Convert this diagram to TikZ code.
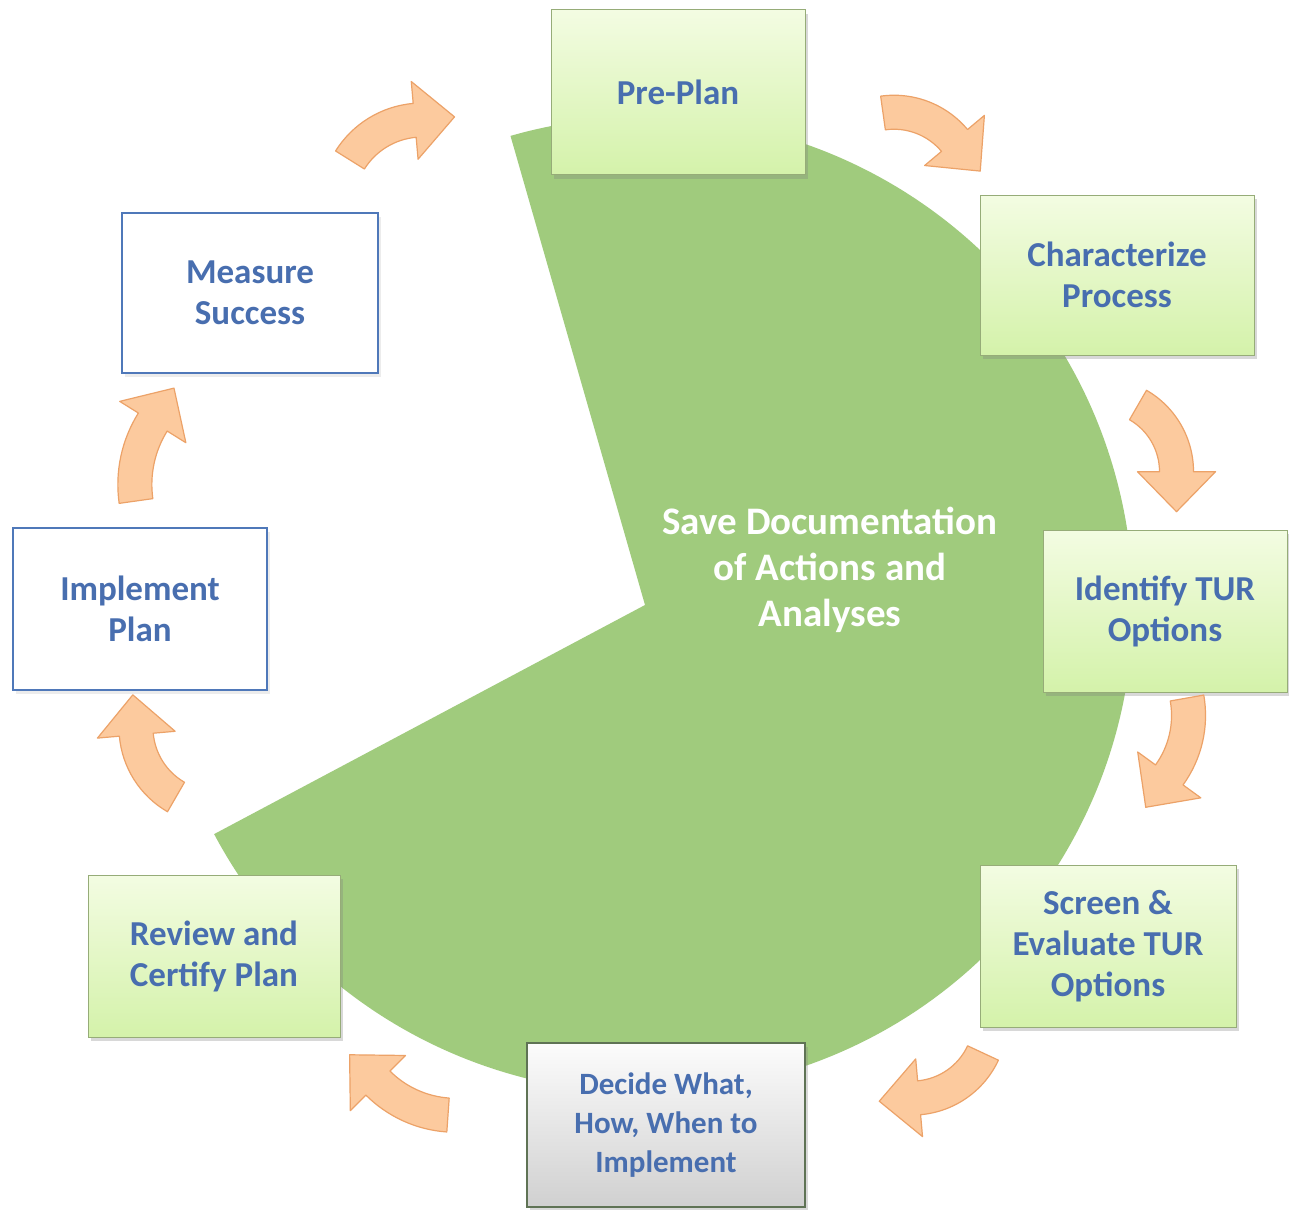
\documentclass[tikz,border=0pt]{standalone}
\usepackage{fontspec}
\setmainfont{Carlito}
\usetikzlibrary{shadows}
\definecolor{pie}{RGB}{160,203,125}
\definecolor{txtblue}{RGB}{72,110,175}
\definecolor{gtop}{RGB}{243,252,226}
\definecolor{gbot}{RGB}{212,242,170}
\definecolor{gborder}{RGB}{150,172,120}
\definecolor{bborder}{RGB}{79,120,185}
\definecolor{arrfill}{RGB}{252,202,158}
\definecolor{arrdraw}{RGB}{236,162,104}
\definecolor{dborder}{RGB}{95,115,85}
\definecolor{dtop}{RGB}{252,252,252}
\definecolor{dbot}{RGB}{208,208,208}
\newcommand\cycarrow[5]{% Tx, Ty, heading, turn, R
  \pgfmathsetmacro\aA{#3-90}%
  \pgfmathsetmacro\aB{#3-90+#4}%
  \pgfmathsetmacro\hD{#3+#4}%
  \pgfmathsetmacro\rO{#5+17}%
  \pgfmathsetmacro\rI{#5-17}%
  \pgfmathsetmacro\rHO{#5+39}%
  \pgfmathsetmacro\rHI{#5-39}%
  \begin{scope}[shift={(#1,#2)}]
  \begin{scope}[shift={(#3+90:#5)}]
    \draw[cyarrow] (\aA:\rO) arc[start angle=\aA, end angle=\aB, radius=\rO]
      -- (\aB:\rHO) -- ([shift={(\hD:40)}]\aB:#5) -- (\aB:\rHI) -- (\aB:\rI)
      arc[start angle=\aB, end angle=\aA, radius=\rI] -- cycle;
  \end{scope}
  \end{scope}}
\begin{document}
\begin{tikzpicture}[x=1pt,y=-1pt,
  boxtext/.style={text=txtblue, font=\fontsize{35}{41}\selectfont\bfseries, align=center, inner sep=0pt},
  greenbox/.style={boxtext, draw=gborder, line width=1pt, top color=gtop, bottom color=gbot,
     drop shadow={opacity=0.3,shadow xshift=3pt,shadow yshift=-4pt}},
  whitebox/.style={boxtext, draw=bborder, line width=1.8pt, fill=white,
     drop shadow={opacity=0.15,shadow xshift=3pt,shadow yshift=-4pt}},
  graybox/.style={boxtext, draw=dborder, line width=1.8pt, top color=dtop, bottom color=dbot,
     font=\fontsize{31}{39}\selectfont\bfseries,
     drop shadow={opacity=0.3,shadow xshift=3pt,shadow yshift=-4pt}},
  cyarrow/.style={fill=arrfill, draw=arrdraw, line width=1.2pt, line join=round}
]
\useasboundingbox (0,0) rectangle (1289,1209);
\fill[white] (0,0) rectangle (1289,1209);

% green pie
\fill[pie] (645,605) -- +(-106:488) arc[start angle=-106, end angle=152, radius=488] -- cycle;

% centre text
\node[font=\fontsize{39}{46}\selectfont\bfseries, text=white, align=center] (save) at (830,570) {Save Documentation\\of Actions and\\Analyses};

% boxes
\node[greenbox, minimum width=254pt, minimum height=165pt] (preplan) at (678,92.5) {Pre-Plan};
\node[greenbox, minimum width=274pt, minimum height=160pt] (charac) at (1117,275) {Characterize\\Process};
\node[greenbox, minimum width=244pt, minimum height=162pt] (identify) at (1165,611) {Identify TUR\\Options};
\node[greenbox, minimum width=256pt, minimum height=162pt] (screen) at (1108,946) {Screen \&\\Evaluate TUR\\Options};
\node[graybox, minimum width=278pt, minimum height=164pt] (decide) at (666,1125) {Decide What,\\How, When to\\Implement};
\node[greenbox, minimum width=252pt, minimum height=162pt] (review) at (214,956) {Review and\\Certify Plan};
\node[whitebox, minimum width=254pt, minimum height=162pt] (implement) at (140,609) {Implement\\Plan};
\node[whitebox, minimum width=256pt, minimum height=160pt] (measure) at (250,293) {Measure\\Success};

% curved arrows
\cycarrow{350}{160}{-58}{53}{85}
\cycarrow{883}{113}{-8}{58}{79}
\cycarrow{1138}{405}{30}{60}{77}
\cycarrow{1187}{698}{80}{46}{101}
\cycarrow{983}{1053}{115}{60}{78}
\cycarrow{448}{1115}{184}{41}{110}
\cycarrow{176}{797}{210}{55}{80}
\cycarrow{136}{501}{262}{40}{118}
\end{tikzpicture}
\end{document}
